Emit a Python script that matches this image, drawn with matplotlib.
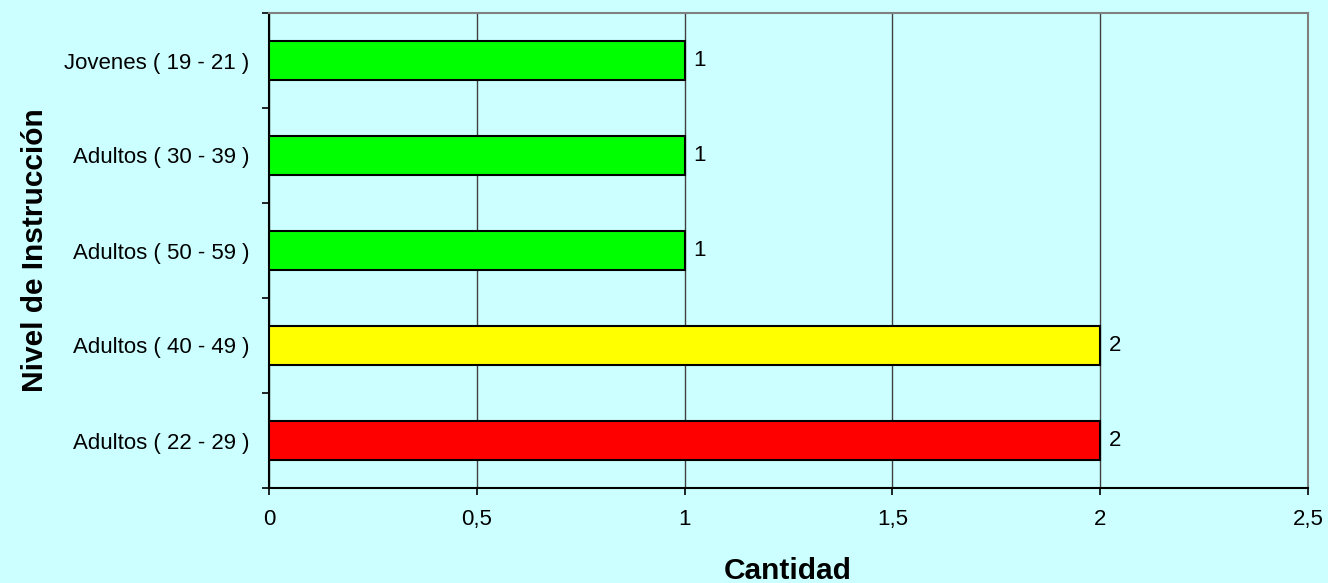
import matplotlib
matplotlib.use("Agg")
import matplotlib.pyplot as plt
from matplotlib.ticker import FixedLocator, FuncFormatter

# data, bottom to top as drawn
categories = ["Adultos ( 22 - 29 )", "Adultos ( 40 - 49 )", "Adultos ( 50 - 59 )",
              "Adultos ( 30 - 39 )", "Jovenes ( 19 - 21 )"]
counts = [2, 2, 1, 1, 1]
bar_colors = ["#FF0000", "#FFFF00", "#00FF00", "#00FF00", "#00FF00"]
x_ticks = [0, 0.5, 1, 1.5, 2, 2.5]

plt.rcParams["font.family"] = ["Liberation Sans", "DejaVu Sans"]
bg = "#CCFFFF"
W, H = 1328, 583

fig = plt.figure(figsize=(W / 100, H / 100), dpi=100, facecolor=bg)
ax = fig.add_axes([269 / W, 1 - 488 / H, (1308 - 269) / W, (488 - 13) / H])
ax.set_facecolor(bg)

ypos = list(range(len(categories)))
ax.barh(ypos, counts, height=0.42, color=bar_colors, edgecolor="black",
        linewidth=1.5, zorder=3)
for y, v in zip(ypos, counts):
    ax.text(v + 0.022, y, str(v), va="center", ha="left", fontsize=16, zorder=4)

ax.set_xlim(0, 2.5)
ax.set_ylim(-0.5, len(categories) - 0.5)

ax.xaxis.set_major_locator(FixedLocator(x_ticks))
ax.xaxis.set_major_formatter(FuncFormatter(lambda v, p: ("%g" % v).replace(".", ",")))
ax.grid(axis="x", color="#404040", linewidth=1.0, zorder=1)
ax.tick_params(axis="x", direction="out", length=5, width=1.2, pad=10, labelsize=16)

ax.set_yticks(ypos)
ax.set_yticklabels(categories)
ax.set_yticks([i - 0.5 for i in range(len(categories) + 1)], minor=True)
ax.tick_params(axis="y", which="major", length=0, pad=14, labelsize=16)
ax.tick_params(axis="y", which="minor", direction="out", length=5, width=1.2)

for side in ["top", "right"]:
    ax.spines[side].set_color("#808080")
    ax.spines[side].set_linewidth(1.5)
for side in ["left", "bottom"]:
    ax.spines[side].set_color("black")
    ax.spines[side].set_linewidth(1.5)

fig.text(788 / W, 4 / H, "Cantidad", fontsize=21.5, fontweight="bold",
         ha="center", va="baseline")
fig.text(35 / W, 1 - 250 / H, "Nivel de Instrucción", fontsize=21.5,
         fontweight="bold", rotation=90, ha="center", va="center")

fig.savefig("out.png", dpi=100, facecolor=bg)
